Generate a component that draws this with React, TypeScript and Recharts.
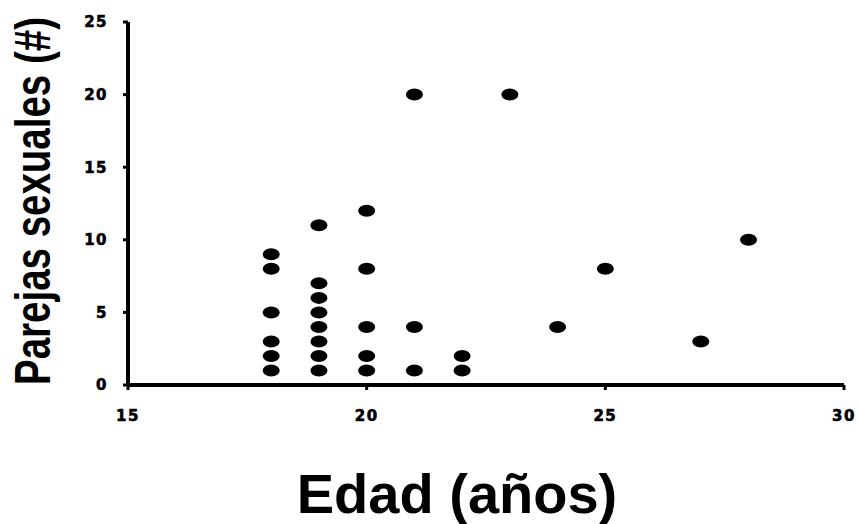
import React from 'react';
import { ScatterChart, Scatter, XAxis, YAxis, Label } from 'recharts';

// age (years) and number of sexual partners for each respondent
const ages = [18, 18, 18, 18, 18, 18, 19, 19, 19, 19, 19, 19, 19, 19, 20, 20, 20, 20, 20, 21, 21, 21, 22, 22, 23, 24, 25, 27, 28];
const partners = [9, 8, 5, 3, 2, 1, 11, 7, 6, 5, 4, 3, 2, 1, 12, 8, 4, 2, 1, 20, 4, 1, 2, 1, 20, 4, 8, 3, 10];

const xTicks = [15, 20, 25, 30];
const yTicks = [0, 5, 10, 15, 20, 25];

const points = ages.map((age, i) => ({ age, partners: partners[i] }));

const tickStyle = {
  fontFamily: '"DejaVu Sans", Verdana, sans-serif',
  fontWeight: 'bold',
  fontSize: 15,
  fill: '#000',
  stroke: '#000',
  strokeWidth: 0.6,
  letterSpacing: 1.5,
};

const Dot = (props: any) => {
  const { cx, cy } = props;
  return <ellipse cx={cx} cy={cy} rx={8.5} ry={6} fill="#000" />;
};

const XTitle = (props: any) => {
  const { viewBox } = props;
  return (
    <text
      x={viewBox.x + viewBox.width / 2 - 29}
      y={513}
      textAnchor="middle"
      fontFamily='"Liberation Sans", Arial, sans-serif'
      fontWeight="bold"
      fontSize={56}
      fill="#000"
    >
      Edad (años)
    </text>
  );
};

// condensed bold title along the y axis
const YTitle = () => (
  <g transform="translate(50, 201) rotate(-90) scale(0.77, 1)">
    <text
      x={0}
      y={0}
      textAnchor="middle"
      fontFamily='"Liberation Sans", Arial, sans-serif'
      fontWeight="bold"
      fontSize={50}
      fill="#000"
    >
      Parejas sexuales (#)
    </text>
  </g>
);

export default function App() {
  return (
    <div style={{ position: 'absolute', left: 0, top: 0, width: 858, height: 524, background: '#fff' }}>
      <ScatterChart width={858} height={524} margin={{ top: 22, right: 14, bottom: 0, left: 0 }}>
        <XAxis
          type="number"
          dataKey="age"
          domain={[15, 30]}
          ticks={xTicks}
          height={139}
          axisLine={{ stroke: '#000', strokeWidth: 4 }}
          tickLine={{ stroke: '#000', strokeWidth: 3 }}
          tickSize={5}
          tickMargin={20}
          tick={tickStyle}
        >
          <Label content={<XTitle />} />
        </XAxis>
        <YAxis
          type="number"
          dataKey="partners"
          domain={[0, 25]}
          ticks={yTicks}
          width={128}
          axisLine={{ stroke: '#000', strokeWidth: 4 }}
          tickLine={{ stroke: '#000', strokeWidth: 3 }}
          tickSize={5}
          tickMargin={15}
          tick={tickStyle}
        >
          <Label content={<YTitle />} />
        </YAxis>
        <Scatter data={points} fill="#000" shape={<Dot />} isAnimationActive={false} />
      </ScatterChart>
    </div>
  );
}
